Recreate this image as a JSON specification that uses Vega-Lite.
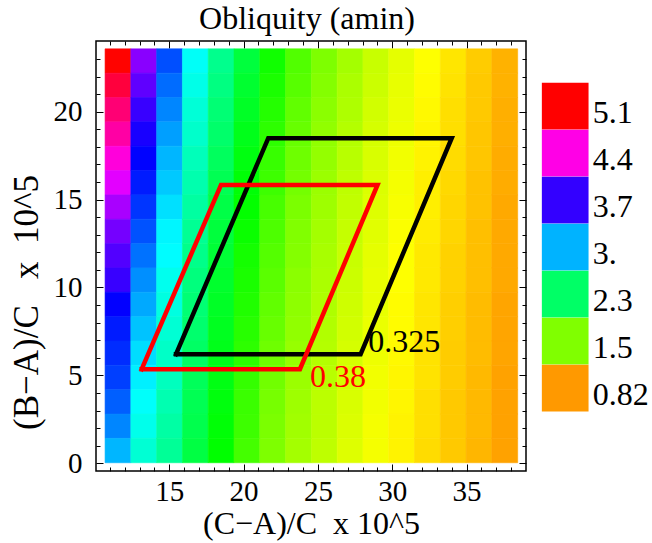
{
  "$schema": "https://vega.github.io/schema/vega-lite/v6.json",
  "width": 430,
  "height": 430,
  "autosize": {"type": "none"},
  "padding": {"left": 96, "top": 41, "right": 126, "bottom": 72},
  "background": "white",
  "title": {"text": "Obliquity (amin)", "font": "Liberation Serif", "fontSize": 32, "fontWeight": "normal", "color": "black", "anchor": "middle", "baseline": "alphabetic", "offset": 10, "dx": -4, "dy": 30},
  "datasets": {
    "cols": [
      {"c": 0, "x0": 10.68, "x1": 12.415}, {"c": 1, "x0": 12.415, "x1": 14.15}, {"c": 2, "x0": 14.15, "x1": 15.885}, {"c": 3, "x0": 15.885, "x1": 17.62},
      {"c": 4, "x0": 17.62, "x1": 19.355}, {"c": 5, "x0": 19.355, "x1": 21.09}, {"c": 6, "x0": 21.09, "x1": 22.825}, {"c": 7, "x0": 22.825, "x1": 24.56},
      {"c": 8, "x0": 24.56, "x1": 26.295}, {"c": 9, "x0": 26.295, "x1": 28.03}, {"c": 10, "x0": 28.03, "x1": 29.765}, {"c": 11, "x0": 29.765, "x1": 31.5},
      {"c": 12, "x0": 31.5, "x1": 33.235}, {"c": 13, "x0": 33.235, "x1": 34.97}, {"c": 14, "x0": 34.97, "x1": 36.705}, {"c": 15, "x0": 36.705, "x1": 38.44}
    ],
    "rows": [
      {"r": 0, "y0": 0.03, "y1": 1.415}, {"r": 1, "y0": 1.415, "y1": 2.8}, {"r": 2, "y0": 2.8, "y1": 4.185}, {"r": 3, "y0": 4.185, "y1": 5.57},
      {"r": 4, "y0": 5.57, "y1": 6.955}, {"r": 5, "y0": 6.955, "y1": 8.34}, {"r": 6, "y0": 8.34, "y1": 9.725}, {"r": 7, "y0": 9.725, "y1": 11.11},
      {"r": 8, "y0": 11.11, "y1": 12.495}, {"r": 9, "y0": 12.495, "y1": 13.88}, {"r": 10, "y0": 13.88, "y1": 15.265}, {"r": 11, "y0": 15.265, "y1": 16.65},
      {"r": 12, "y0": 16.65, "y1": 18.035}, {"r": 13, "y0": 18.035, "y1": 19.42}, {"r": 14, "y0": 19.42, "y1": 20.805}, {"r": 15, "y0": 20.805, "y1": 22.19},
      {"r": 16, "y0": 22.19, "y1": 23.575}
    ],
    "cells": [
      {"c":0,"r":16,"v":5.11},{"c":0,"r":15,"v":4.91},{"c":0,"r":14,"v":4.74},{"c":0,"r":13,"v":4.59},{"c":0,"r":12,"v":4.42},{"c":0,"r":11,"v":4.22},{"c":0,"r":10,"v":4.04},{"c":0,"r":9,"v":3.88},{"c":0,"r":8,"v":3.77},{"c":0,"r":7,"v":3.69},{"c":0,"r":6,"v":3.52},{"c":0,"r":5,"v":3.43},{"c":0,"r":4,"v":3.38},{"c":0,"r":3,"v":3.32},{"c":0,"r":2,"v":3.22},{"c":0,"r":1,"v":3.10},{"c":0,"r":0,"v":2.95},
      {"c":1,"r":16,"v":3.94},{"c":1,"r":15,"v":3.81},{"c":1,"r":14,"v":3.69},{"c":1,"r":13,"v":3.59},{"c":1,"r":12,"v":3.51},{"c":1,"r":11,"v":3.43},{"c":1,"r":10,"v":3.35},{"c":1,"r":9,"v":3.26},{"c":1,"r":8,"v":3.16},{"c":1,"r":7,"v":3.07},{"c":1,"r":6,"v":2.99},{"c":1,"r":5,"v":2.91},{"c":1,"r":4,"v":2.83},{"c":1,"r":3,"v":2.77},{"c":1,"r":2,"v":2.71},{"c":1,"r":1,"v":2.66},{"c":1,"r":0,"v":2.59},
      {"c":2,"r":16,"v":3.27},{"c":2,"r":15,"v":3.18},{"c":2,"r":14,"v":3.10},{"c":2,"r":13,"v":3.02},{"c":2,"r":12,"v":2.95},{"c":2,"r":11,"v":2.89},{"c":2,"r":10,"v":2.82},{"c":2,"r":9,"v":2.75},{"c":2,"r":8,"v":2.73},{"c":2,"r":7,"v":2.67},{"c":2,"r":6,"v":2.63},{"c":2,"r":5,"v":2.59},{"c":2,"r":4,"v":2.55},{"c":2,"r":3,"v":2.52},{"c":2,"r":2,"v":2.48},{"c":2,"r":1,"v":2.44},{"c":2,"r":0,"v":2.40},
      {"c":3,"r":16,"v":2.70},{"c":3,"r":15,"v":2.65},{"c":3,"r":14,"v":2.60},{"c":3,"r":13,"v":2.56},{"c":3,"r":12,"v":2.51},{"c":3,"r":11,"v":2.47},{"c":3,"r":10,"v":2.43},{"c":3,"r":9,"v":2.39},{"c":3,"r":8,"v":2.36},{"c":3,"r":7,"v":2.32},{"c":3,"r":6,"v":2.29},{"c":3,"r":5,"v":2.27},{"c":3,"r":4,"v":2.24},{"c":3,"r":3,"v":2.21},{"c":3,"r":2,"v":2.19},{"c":3,"r":1,"v":2.17},{"c":3,"r":0,"v":2.14},
      {"c":4,"r":16,"v":2.37},{"c":4,"r":15,"v":2.33},{"c":4,"r":14,"v":2.29},{"c":4,"r":13,"v":2.26},{"c":4,"r":12,"v":2.22},{"c":4,"r":11,"v":2.19},{"c":4,"r":10,"v":2.15},{"c":4,"r":9,"v":2.12},{"c":4,"r":8,"v":2.10},{"c":4,"r":7,"v":2.07},{"c":4,"r":6,"v":2.05},{"c":4,"r":5,"v":2.03},{"c":4,"r":4,"v":2.01},{"c":4,"r":3,"v":1.99},{"c":4,"r":2,"v":1.97},{"c":4,"r":1,"v":1.95},{"c":4,"r":0,"v":1.93},
      {"c":5,"r":16,"v":2.12},{"c":5,"r":15,"v":2.08},{"c":5,"r":14,"v":2.05},{"c":5,"r":13,"v":2.01},{"c":5,"r":12,"v":1.98},{"c":5,"r":11,"v":1.95},{"c":5,"r":10,"v":1.92},{"c":5,"r":9,"v":1.90},{"c":5,"r":8,"v":1.87},{"c":5,"r":7,"v":1.85},{"c":5,"r":6,"v":1.83},{"c":5,"r":5,"v":1.81},{"c":5,"r":4,"v":1.79},{"c":5,"r":3,"v":1.77},{"c":5,"r":2,"v":1.75},{"c":5,"r":1,"v":1.74},{"c":5,"r":0,"v":1.72},
      {"c":6,"r":16,"v":1.88},{"c":6,"r":15,"v":1.85},{"c":6,"r":14,"v":1.82},{"c":6,"r":13,"v":1.79},{"c":6,"r":12,"v":1.76},{"c":6,"r":11,"v":1.74},{"c":6,"r":10,"v":1.71},{"c":6,"r":9,"v":1.69},{"c":6,"r":8,"v":1.67},{"c":6,"r":7,"v":1.65},{"c":6,"r":6,"v":1.63},{"c":6,"r":5,"v":1.61},{"c":6,"r":4,"v":1.59},{"c":6,"r":3,"v":1.58},{"c":6,"r":2,"v":1.56},{"c":6,"r":1,"v":1.55},{"c":6,"r":0,"v":1.54},
      {"c":7,"r":16,"v":1.68},{"c":7,"r":15,"v":1.66},{"c":7,"r":14,"v":1.63},{"c":7,"r":13,"v":1.61},{"c":7,"r":12,"v":1.59},{"c":7,"r":11,"v":1.57},{"c":7,"r":10,"v":1.55},{"c":7,"r":9,"v":1.53},{"c":7,"r":8,"v":1.52},{"c":7,"r":7,"v":1.50},{"c":7,"r":6,"v":1.49},{"c":7,"r":5,"v":1.48},{"c":7,"r":4,"v":1.46},{"c":7,"r":3,"v":1.45},{"c":7,"r":2,"v":1.44},{"c":7,"r":1,"v":1.43},{"c":7,"r":0,"v":1.42},
      {"c":8,"r":16,"v":1.54},{"c":8,"r":15,"v":1.52},{"c":8,"r":14,"v":1.50},{"c":8,"r":13,"v":1.48},{"c":8,"r":12,"v":1.47},{"c":8,"r":11,"v":1.45},{"c":8,"r":10,"v":1.44},{"c":8,"r":9,"v":1.42},{"c":8,"r":8,"v":1.41},{"c":8,"r":7,"v":1.40},{"c":8,"r":6,"v":1.39},{"c":8,"r":5,"v":1.38},{"c":8,"r":4,"v":1.37},{"c":8,"r":3,"v":1.36},{"c":8,"r":2,"v":1.35},{"c":8,"r":1,"v":1.35},{"c":8,"r":0,"v":1.34},
      {"c":9,"r":16,"v":1.42},{"c":9,"r":15,"v":1.40},{"c":9,"r":14,"v":1.39},{"c":9,"r":13,"v":1.37},{"c":9,"r":12,"v":1.36},{"c":9,"r":11,"v":1.34},{"c":9,"r":10,"v":1.33},{"c":9,"r":9,"v":1.32},{"c":9,"r":8,"v":1.31},{"c":9,"r":7,"v":1.30},{"c":9,"r":6,"v":1.29},{"c":9,"r":5,"v":1.28},{"c":9,"r":4,"v":1.27},{"c":9,"r":3,"v":1.27},{"c":9,"r":2,"v":1.26},{"c":9,"r":1,"v":1.25},{"c":9,"r":0,"v":1.24},
      {"c":10,"r":16,"v":1.31},{"c":10,"r":15,"v":1.30},{"c":10,"r":14,"v":1.28},{"c":10,"r":13,"v":1.27},{"c":10,"r":12,"v":1.26},{"c":10,"r":11,"v":1.25},{"c":10,"r":10,"v":1.24},{"c":10,"r":9,"v":1.23},{"c":10,"r":8,"v":1.22},{"c":10,"r":7,"v":1.21},{"c":10,"r":6,"v":1.21},{"c":10,"r":5,"v":1.20},{"c":10,"r":4,"v":1.19},{"c":10,"r":3,"v":1.18},{"c":10,"r":2,"v":1.18},{"c":10,"r":1,"v":1.17},{"c":10,"r":0,"v":1.17},
      {"c":11,"r":16,"v":1.22},{"c":11,"r":15,"v":1.21},{"c":11,"r":14,"v":1.20},{"c":11,"r":13,"v":1.19},{"c":11,"r":12,"v":1.18},{"c":11,"r":11,"v":1.17},{"c":11,"r":10,"v":1.16},{"c":11,"r":9,"v":1.15},{"c":11,"r":8,"v":1.14},{"c":11,"r":7,"v":1.14},{"c":11,"r":6,"v":1.13},{"c":11,"r":5,"v":1.13},{"c":11,"r":4,"v":1.12},{"c":11,"r":3,"v":1.11},{"c":11,"r":2,"v":1.11},{"c":11,"r":1,"v":1.10},{"c":11,"r":0,"v":1.10},
      {"c":12,"r":16,"v":1.14},{"c":12,"r":15,"v":1.13},{"c":12,"r":14,"v":1.12},{"c":12,"r":13,"v":1.11},{"c":12,"r":12,"v":1.10},{"c":12,"r":11,"v":1.09},{"c":12,"r":10,"v":1.09},{"c":12,"r":9,"v":1.08},{"c":12,"r":8,"v":1.07},{"c":12,"r":7,"v":1.07},{"c":12,"r":6,"v":1.06},{"c":12,"r":5,"v":1.06},{"c":12,"r":4,"v":1.05},{"c":12,"r":3,"v":1.05},{"c":12,"r":2,"v":1.04},{"c":12,"r":1,"v":1.04},{"c":12,"r":0,"v":1.03},
      {"c":13,"r":16,"v":1.06},{"c":13,"r":15,"v":1.05},{"c":13,"r":14,"v":1.04},{"c":13,"r":13,"v":1.04},{"c":13,"r":12,"v":1.03},{"c":13,"r":11,"v":1.02},{"c":13,"r":10,"v":1.01},{"c":13,"r":9,"v":1.01},{"c":13,"r":8,"v":1.00},{"c":13,"r":7,"v":1.00},{"c":13,"r":6,"v":0.99},{"c":13,"r":5,"v":0.99},{"c":13,"r":4,"v":0.98},{"c":13,"r":3,"v":0.98},{"c":13,"r":2,"v":0.97},{"c":13,"r":1,"v":0.97},{"c":13,"r":0,"v":0.97},
      {"c":14,"r":16,"v":0.98},{"c":14,"r":15,"v":0.97},{"c":14,"r":14,"v":0.97},{"c":14,"r":13,"v":0.96},{"c":14,"r":12,"v":0.96},{"c":14,"r":11,"v":0.95},{"c":14,"r":10,"v":0.95},{"c":14,"r":9,"v":0.94},{"c":14,"r":8,"v":0.94},{"c":14,"r":7,"v":0.94},{"c":14,"r":6,"v":0.93},{"c":14,"r":5,"v":0.93},{"c":14,"r":4,"v":0.93},{"c":14,"r":3,"v":0.92},{"c":14,"r":2,"v":0.92},{"c":14,"r":1,"v":0.92},{"c":14,"r":0,"v":0.91},
      {"c":15,"r":16,"v":0.90},{"c":15,"r":15,"v":0.90},{"c":15,"r":14,"v":0.89},{"c":15,"r":13,"v":0.89},{"c":15,"r":12,"v":0.88},{"c":15,"r":11,"v":0.88},{"c":15,"r":10,"v":0.87},{"c":15,"r":9,"v":0.87},{"c":15,"r":8,"v":0.87},{"c":15,"r":7,"v":0.87},{"c":15,"r":6,"v":0.86},{"c":15,"r":5,"v":0.86},{"c":15,"r":4,"v":0.86},{"c":15,"r":3,"v":0.85},{"c":15,"r":2,"v":0.85},{"c":15,"r":1,"v":0.85},{"c":15,"r":0,"v":0.85}
    ],
    "shapes": [
      {"k": "0.325", "i": 0, "x": 15.45, "y": 6.2}, {"k": "0.325", "i": 1, "x": 27.87, "y": 6.2}, {"k": "0.325", "i": 2, "x": 34.0, "y": 18.49}, {"k": "0.325", "i": 3, "x": 21.66, "y": 18.49}, {"k": "0.325", "i": 4, "x": 15.45, "y": 6.2},
      {"k": "0.38", "i": 0, "x": 13.14, "y": 5.35}, {"k": "0.38", "i": 1, "x": 23.79, "y": 5.35}, {"k": "0.38", "i": 2, "x": 29.01, "y": 15.83}, {"k": "0.38", "i": 3, "x": 18.48, "y": 15.83}, {"k": "0.38", "i": 4, "x": 13.14, "y": 5.35}
    ],
    "labels": [
      {"k": "0.325", "x": 28.38, "y": 6.34},
      {"k": "0.38", "x": 24.46, "y": 4.36}
    ],
    "legend": [
      {"lab": "5.1"}, {"lab": "4.4"}, {"lab": "3.7"}, {"lab": "3."}, {"lab": "2.3"}, {"lab": "1.5"}, {"lab": "0.82"}
    ]
  },
  "layer": [
    {
      "data": {"name": "cells"},
      "transform": [
        {"lookup": "c", "from": {"data": {"name": "cols"}, "key": "c", "fields": ["x0", "x1"]}},
        {"lookup": "r", "from": {"data": {"name": "rows"}, "key": "r", "fields": ["y0", "y1"]}}
      ],
      "mark": {"type": "rect", "strokeWidth": 0.6},
      "encoding": {
        "x": {"field": "x0", "type": "quantitative", "scale": {"domain": [10.07, 39.0], "nice": false, "zero": false},
          "axis": {"orient": "bottom", "values": [15, 20, 25, 30, 35], "ticks": false, "labelOverlap": false, "labelFlush": false,
            "labelPadding": 6, "title": "(C−A)/C\u00a0 x 10^5", "titleY": 62, "titleBaseline": "alphabetic"}},
        "x2": {"field": "x1"},
        "y": {"field": "y0", "type": "quantitative", "scale": {"domain": [-0.44, 24.02], "nice": false, "zero": false},
          "axis": {"orient": "left", "values": [0, 5, 10, 15, 20], "ticks": false, "labelOverlap": false, "labelFlush": false,
            "labelPadding": 14, "title": "(B−A)/C\u00a0\u00a0\u00a0x\u00a0\u00a010^5", "titleFontSize": 35, "titleX": -59, "titleY": 261, "titleBaseline": "alphabetic"}},
        "y2": {"field": "y1"},
        "color": {"field": "v", "type": "quantitative", "scale": {"type": "linear", "domain": [0.8214, 5.1], "range": ["hsl(36,100%,50%)", "hsl(360,100%,50%)"], "interpolate": "hsl-long"}, "legend": null},
        "stroke": {"field": "v", "type": "quantitative", "scale": {"type": "linear", "domain": [0.8214, 5.1], "range": ["hsl(36,100%,50%)", "hsl(360,100%,50%)"], "interpolate": "hsl-long"}, "legend": null}
      }
    },
    {
      "data": {"name": "shapes"},
      "mark": {"type": "line", "strokeWidth": 4.5, "strokeJoin": "miter", "strokeCap": "square"},
      "encoding": {
        "x": {"field": "x", "type": "quantitative", "scale": {"domain": [10.07, 39.0], "nice": false, "zero": false},
          "axis": {"orient": "top", "values": [11,12,13,14,15,16,17,18,19,20,21,22,23,24,25,26,27,28,29,30,31,32,33,34,35,36,37,38], "labels": false, "title": null,
            "tickSize": {"condition": {"test": "datum.value % 5 === 0", "value": -7}, "value": -4}}},
        "y": {"field": "y", "type": "quantitative", "scale": {"domain": [-0.44, 24.02], "nice": false, "zero": false},
          "axis": {"orient": "right", "values": [0,1,2,3,4,5,6,7,8,9,10,11,12,13,14,15,16,17,18,19,20,21,22,23], "labels": false, "title": null,
            "tickSize": {"condition": {"test": "datum.value % 5 === 0", "value": -7}, "value": -4}}},
        "order": {"field": "i"},
        "color": {"field": "k", "type": "nominal", "scale": {"domain": ["0.325", "0.38"], "range": ["#000000", "#FF0000"]}, "legend": null}
      }
    },
    {
      "data": {"name": "labels"},
      "mark": {"type": "text", "align": "left", "baseline": "alphabetic", "font": "Liberation Serif", "fontSize": 32},
      "encoding": {
        "x": {"field": "x", "type": "quantitative", "scale": {"domain": [10.07, 39.0], "nice": false, "zero": false},
          "axis": {"orient": "bottom", "values": [11,12,13,14,15,16,17,18,19,20,21,22,23,24,25,26,27,28,29,30,31,32,33,34,35,36,37,38], "labels": false, "title": null,
            "tickSize": {"condition": {"test": "datum.value % 5 === 0", "value": -7}, "value": -4}}},
        "y": {"field": "y", "type": "quantitative", "scale": {"domain": [-0.44, 24.02], "nice": false, "zero": false},
          "axis": {"orient": "left", "values": [0,1,2,3,4,5,6,7,8,9,10,11,12,13,14,15,16,17,18,19,20,21,22,23], "labels": false, "title": null,
            "tickSize": {"condition": {"test": "datum.value % 5 === 0", "value": -7}, "value": -4}}},
        "text": {"field": "k"},
        "color": {"field": "k", "type": "nominal", "scale": {"domain": ["0.325", "0.38"], "range": ["#000000", "#FF0000"]}, "legend": null}
      }
    },
    {
      "data": {"name": "legend"},
      "mark": {"type": "square", "opacity": 0},
      "encoding": {
        "color": {"field": "lab", "type": "nominal",
          "scale": {"domain": ["5.1", "4.4", "3.7", "3.", "2.3", "1.5", "0.82"], "range": ["#FF0000", "#FF00E6", "#3300FF", "#00B3FF", "#00FF66", "#80FF00", "#FF9900"]},
          "legend": {"orient": "none", "legendX": 445.7, "legendY": 41.7, "title": null, "padding": 0,
            "symbolType": "square", "symbolSize": 2181, "symbolStrokeWidth": 0, "symbolOpacity": 1, "rowPadding": 0,
            "labelFont": "Liberation Serif", "labelFontSize": 32, "labelColor": "black", "labelOffset": 4, "labelBaseline": "alphabetic",
            "encoding": {"labels": {"dy": {"value": 16.8}}}}
        }
      }
    }
  ],
  "resolve": {"axis": {"x": "independent", "y": "independent"}, "scale": {"color": "independent"}},
  "config": {
    "view": {"stroke": "black", "strokeWidth": 1.5},
    "axis": {"domain": false, "grid": false, "labelFont": "Liberation Serif", "labelFontSize": 29, "labelColor": "black",
      "titleFont": "Liberation Serif", "titleFontSize": 32, "titleFontWeight": "normal", "titleColor": "black", "tickColor": "black", "tickWidth": 1}
  }
}
